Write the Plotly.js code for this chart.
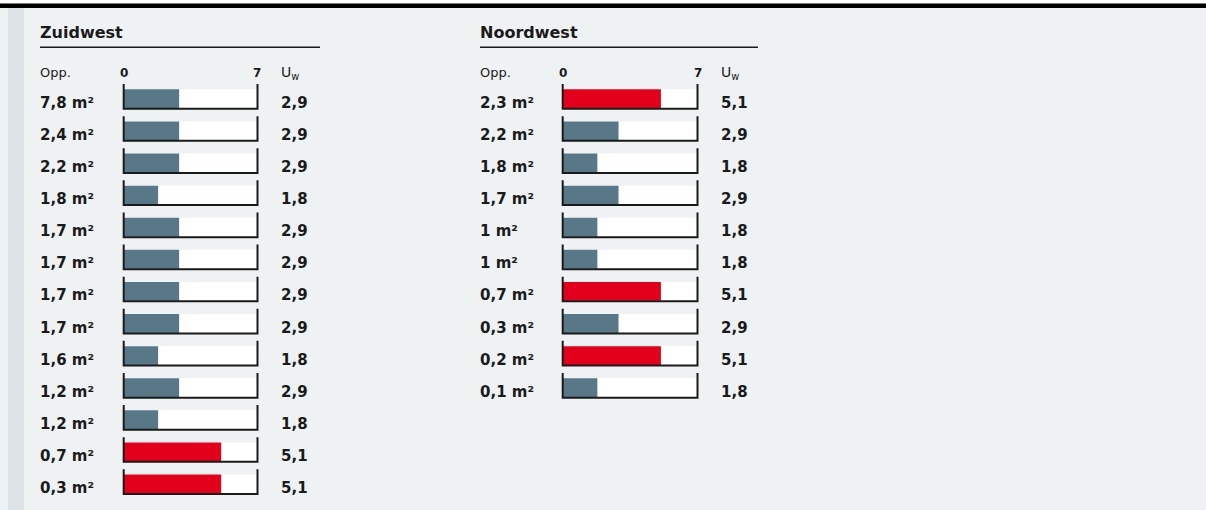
<!DOCTYPE html>
<html>
<head>
<meta charset="utf-8">
<script src="https://cdn.plot.ly/plotly-3.0.1.min.js"></script>
<style>
  html, body { margin: 0; padding: 0; background: #eff2f3; }
  #chart { width: 1206px; height: 510px; }
</style>
</head>
<body>
<div id="chart"></div>
<script>
// ---- data ----
const panelTitles = ['Zuidwest', 'Noordwest'];
const zuidwestOpp = [7.8, 2.4, 2.2, 1.8, 1.7, 1.7, 1.7, 1.7, 1.6, 1.2, 1.2, 0.7, 0.3];
const zuidwestUw  = [2.9, 2.9, 2.9, 1.8, 2.9, 2.9, 2.9, 2.9, 1.8, 2.9, 1.8, 5.1, 5.1];
const noordwestOpp = [2.3, 2.2, 1.8, 1.7, 1, 1, 0.7, 0.3, 0.2, 0.1];
const noordwestUw  = [5.1, 2.9, 1.8, 2.9, 1.8, 1.8, 5.1, 2.9, 5.1, 1.8];
const scaleTicks = [0, 7];
const headerOpp = 'Opp.';
const headerUw = 'U<sub>w</sub>';

// ---- style ----
const W = 1206, H = 510;
const FONT = 'DejaVu Sans, Liberation Sans, Arial, sans-serif';
const INK = '#1a1a1a';
const BLUE = '#587887';
const RED = '#e2001a';
const scaleMax = scaleTicks[scaleTicks.length - 1];

const panels = [
  {opp: zuidwestOpp, uw: zuidwestUw, title: panelTitles[0], left: 40, lineEnd: 320, x0: 123.7, x7: 257.5, uwX: 281, ax: 'x', ay: 'y'},
  {opp: noordwestOpp, uw: noordwestUw, title: panelTitles[1], left: 480, lineEnd: 758, x0: 562.7, x7: 697.5, uwX: 721, ax: 'x2', ay: 'y2'}
];

const rowTop = 82.75, rowH = 32.1, nRows = 13;
const yDomain = [1 - (rowTop + rowH * nRows) / H, 1 - rowTop / H];
const yRange = [nRows - 0.5, -0.5];
const pad = 0.1;
const XS = -2;

const fmt = v => String(v).replace('.', ',');
const fmt1 = v => v.toFixed(1).replace('.', ',');

const traces = [];
const annotations = [];
const shapes = [
  {type: 'rect', xref: 'paper', yref: 'paper', x0: 0, x1: 1, y0: 1 - 3 / H, y1: 1, fillcolor: '#ffffff', line: {width: 0}, layer: 'below'},
  {type: 'rect', xref: 'paper', yref: 'paper', x0: 0, x1: 1, y0: 1 - 8 / H, y1: 1 - 3.5 / H, fillcolor: '#000000', line: {width: 0}},
  {type: 'rect', xref: 'paper', yref: 'paper', x0: 8 / W, x1: 24 / W, y0: 0, y1: 1 - 8 / H, fillcolor: '#dde3e6', line: {width: 0}, layer: 'below'}
];
const layout = {
  width: W, height: H,
  margin: {l: 0, r: 0, t: 0, b: 0},
  paper_bgcolor: '#eff2f3',
  plot_bgcolor: 'rgba(0,0,0,0)',
  showlegend: false,
  barmode: 'overlay',
  font: {family: FONT, color: INK},
  annotations: annotations,
  shapes: shapes
};

panels.forEach((p, k) => {
  const idx = p.uw.map((_, i) => i);
  const pxPerUnit = (p.x7 - p.x0) / scaleMax;
  const dom = [(p.x0 - pad * pxPerUnit) / W, (p.x7 + pad * pxPerUnit) / W];
  const sfx = k === 0 ? '' : '2';
  layout['xaxis' + sfx] = {domain: dom, range: [-pad, scaleMax + pad], visible: false, fixedrange: true, anchor: p.ay};
  layout['yaxis' + sfx] = {domain: yDomain, range: yRange, visible: false, fixedrange: true, anchor: p.ax};

  // white scale background
  traces.push({type: 'bar', orientation: 'h', x: idx.map(() => scaleMax), y: idx, width: 0.59,
    marker: {color: '#ffffff', line: {width: 0}}, xaxis: p.ax, yaxis: p.ay, hoverinfo: 'skip'});
  // value bars
  traces.push({type: 'bar', orientation: 'h', x: p.uw, y: idx, width: 0.59,
    marker: {color: p.uw.map(v => v >= 5 ? RED : BLUE), line: {width: 0}},
    xaxis: p.ax, yaxis: p.ay, hovertemplate: '%{x}<extra></extra>'});
  // brackets
  const bx = [], by = [];
  idx.forEach(i => {
    bx.push(0, 0, scaleMax, scaleMax, null);
    by.push(i - 0.46, i + 0.31, i + 0.31, i - 0.46, null);
  });
  traces.push({type: 'scatter', mode: 'lines', x: bx, y: by, line: {color: INK, width: 2},
    xaxis: p.ax, yaxis: p.ay, hoverinfo: 'skip', connectgaps: false});

  // title + underline
  annotations.push({text: '<b>' + p.title + '</b>', xref: 'paper', yref: 'paper', x: p.left / W, y: 1 - 32 / H,
    xshift: XS, xanchor: 'left', yanchor: 'middle', showarrow: false, font: {size: 16, color: INK, family: FONT}});
  shapes.push({type: 'line', xref: 'paper', yref: 'paper', x0: p.left / W, x1: p.lineEnd / W,
    y0: 1 - 47.3 / H, y1: 1 - 47.3 / H, line: {color: INK, width: 1.5}});

  // headers
  annotations.push({text: headerOpp, xref: 'paper', yref: 'paper', x: p.left / W, y: 1 - 73 / H,
    xshift: XS, xanchor: 'left', yanchor: 'middle', showarrow: false, font: {size: 13, color: INK, family: FONT}});
  annotations.push({text: headerUw, xref: 'paper', yref: 'paper', x: p.uwX / W, y: 1 - 73 / H,
    xshift: XS, xanchor: 'left', yanchor: 'middle', showarrow: false, font: {size: 14, color: INK, family: FONT}});
  scaleTicks.forEach(t => {
    annotations.push({text: '<b>' + t + '</b>', xref: p.ax, yref: 'paper', x: t, y: 1 - 73 / H,
      xanchor: 'center', yanchor: 'middle', showarrow: false, font: {size: 12, color: INK, family: FONT}});
  });

  // row labels
  idx.forEach(i => {
    annotations.push({text: '<b>' + fmt(p.opp[i]) + ' m²</b>', xref: 'paper', yref: p.ay, x: p.left / W, y: i,
      xshift: XS, yshift: -4, xanchor: 'left', yanchor: 'middle', showarrow: false, font: {size: 15, color: INK, family: FONT}});
    annotations.push({text: '<b>' + fmt1(p.uw[i]) + '</b>', xref: 'paper', yref: p.ay, x: p.uwX / W, y: i,
      xshift: XS, yshift: -4, xanchor: 'left', yanchor: 'middle', showarrow: false, font: {size: 15, color: INK, family: FONT}});
  });
});

Plotly.newPlot('chart', traces, layout, {displayModeBar: false, staticPlot: true});
</script>
</body>
</html>
